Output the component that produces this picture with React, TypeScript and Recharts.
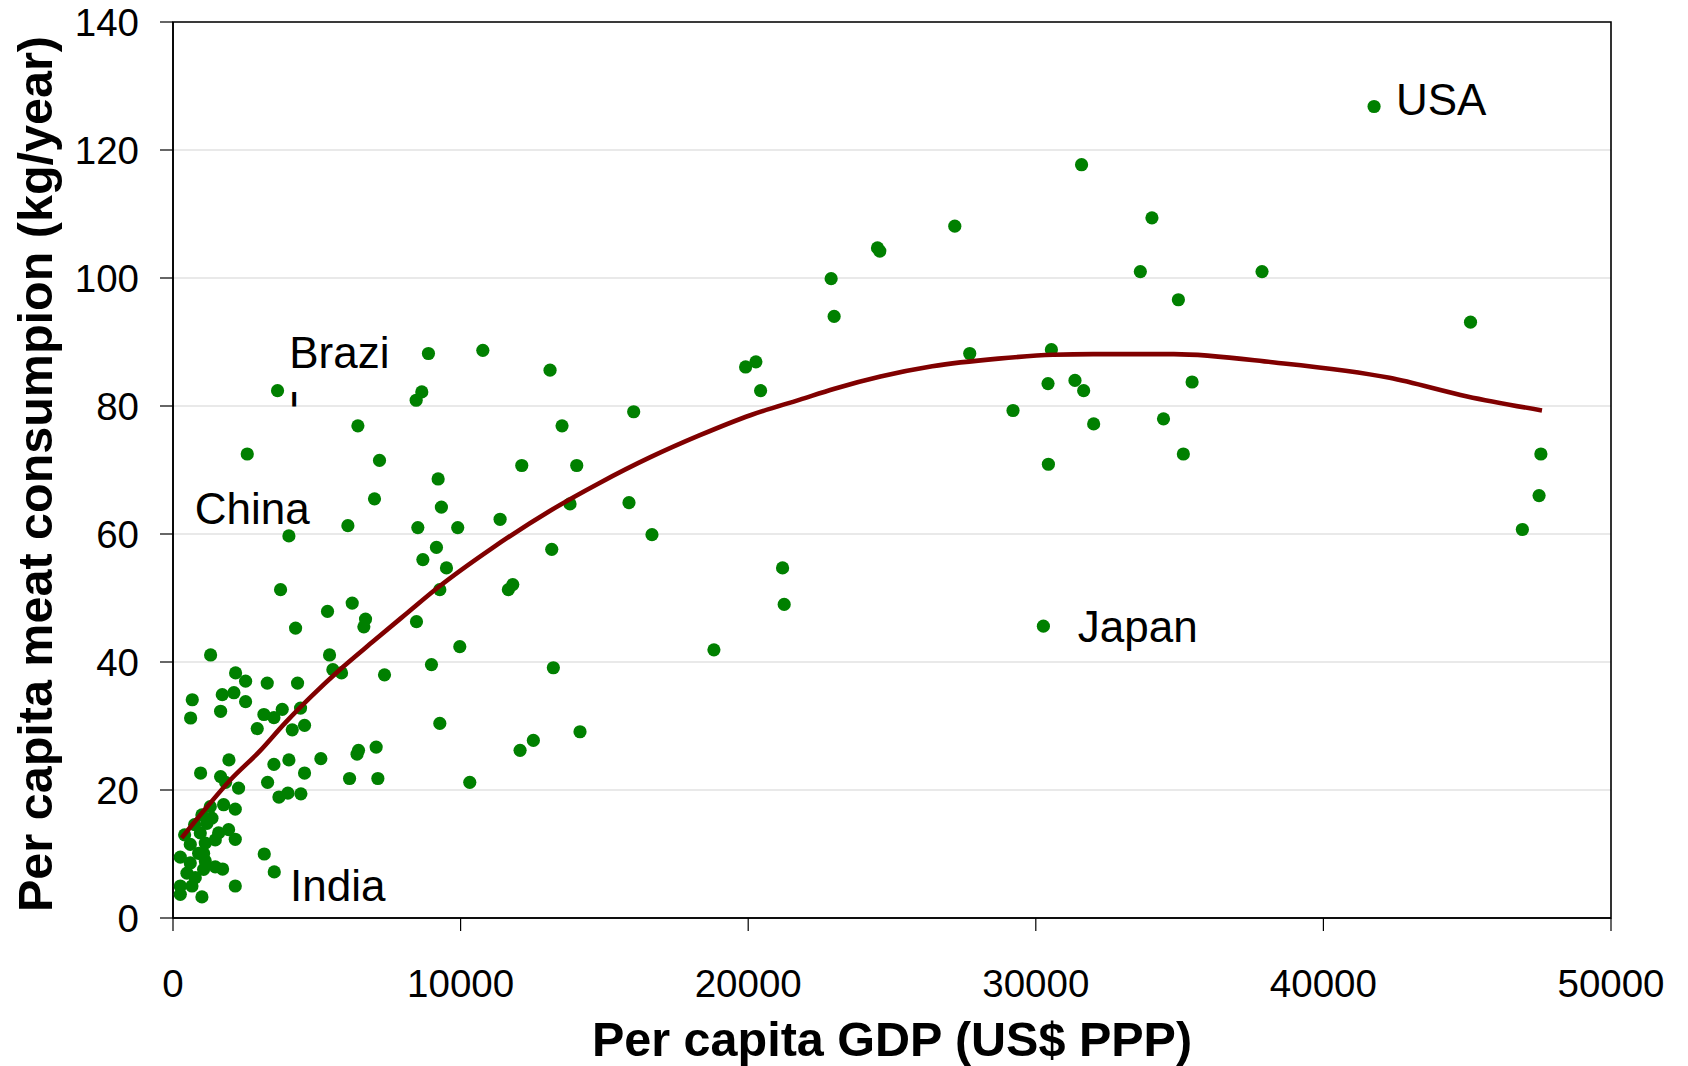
import React from "react";
import {
  CartesianGrid,
  ReferenceArea,
  Scatter,
  ScatterChart,
  XAxis,
  YAxis,
} from "recharts";

// per capita GDP (US$ PPP) and meat consumption (kg/year) per country
const gdp = [
  254, 254, 254, 404, 485, 601, 601, 660, 774, 752, 891, 948, 1006, 1006, 1064,
  1122, 1122, 1180, 1296, 1354, 1470, 1470, 1585, 1725, 1760, 1933, 2165, 2165,
  2165, 2280, 3173, 3521, 960, 1655, 1829, 1945, 3289, 3509, 4030, 4574, 3683,
  3995, 4447, 5141, 6139, 7123, 6400, 6450, 7064, 10319, 2929, 4146, 4574, 9277,
  613, 1655, 3161, 3509, 3798, 4435, 670, 1713, 2118, 2524, 2176, 2524, 3277,
  4331, 5559, 5860, 7354, 8987, 1308, 5443, 9972, 4262, 6636, 6694, 8466, 5373,
  6231, 3740, 9277, 9509, 8688, 9160, 4030, 6081, 8513, 9900, 9332, 7006, 9219,
  7180, 2582, 6429, 8455, 8651, 3635, 8882, 10773, 13110, 13527, 16018, 12127,
  14038, 13805, 15855, 11373, 16654, 13169, 11814, 11661, 13225, 14152, 12530,
  12068, 27183, 24496, 24576, 22884, 22988, 19910, 20268, 20431, 27703, 30542,
  30425, 31362, 31664, 29208, 32012, 30438, 21195, 21251, 18808, 30264, 41762,
  31591, 34038, 33635, 37866, 34958, 45115, 35434, 34440, 35131, 47562, 47499,
  46918, 1064,
];
const meat = [
  9.5, 5.0, 3.7, 13.0, 7.0, 11.5, 8.6, 5.0, 6.3, 14.6, 10.1, 13.3, 16.1, 3.3,
  10.1, 11.7, 8.9, 14.8, 17.4, 15.6, 12.2, 8.0, 13.3, 7.65, 17.7, 13.8, 17.0,
  12.3, 5.0, 20.3, 10.0, 7.2, 22.65, 22.1, 21.2, 24.7, 21.2, 24.0, 24.7, 22.65,
  18.9, 19.5, 19.4, 24.9, 21.8, 21.8, 25.6, 26.2, 26.7, 21.2, 29.6, 29.4, 30.1,
  30.4, 31.25, 32.3, 31.8, 31.3, 32.6, 32.8, 34.1, 34.9, 35.2, 33.8, 38.3, 37.0,
  36.7, 36.7, 38.8, 38.3, 38.0, 39.6, 41.1, 41.1, 42.4, 45.3, 45.5, 46.7, 46.3,
  47.9, 49.2, 51.3, 51.3, 54.7, 56.0, 57.9, 59.7, 61.3, 61.0, 61.0, 64.2, 65.5,
  68.6, 71.5, 72.5, 76.9, 80.9, 82.2, 82.4, 88.2, 88.7, 85.6, 76.9, 79.1, 70.7,
  70.7, 64.7, 64.9, 62.3, 59.9, 57.6, 52.1, 51.3, 39.1, 29.1, 27.75, 26.2, 108.1,
  104.7, 104.2, 99.9, 94.0, 86.1, 86.9, 82.4, 88.2, 88.8, 83.5, 84.0, 82.4, 79.3,
  77.2, 70.9, 54.7, 49.0, 41.9, 45.6, 126.8, 117.7, 109.4, 101.0, 101.0, 96.6,
  93.1, 83.75, 78.0, 72.5, 72.5, 66.0, 60.7, 7.6,
];

// fitted trend line
const trendGdp = [
  300, 1100, 2000, 3000, 3900, 4800, 5800, 6900, 8100, 9200, 11100, 13100,
  14800, 16600, 18300, 20100, 21800, 23000, 24600, 26400, 28700, 30600, 32000,
  34800, 38300, 42300, 45000, 47600,
];
const trendMeat = [
  12.5, 16.9, 21.6, 26.0, 30.5, 34.6, 38.8, 43.0, 47.5, 51.6, 57.8, 63.6, 67.9,
  72.0, 75.4, 78.6, 81.0, 82.7, 84.6, 86.2, 87.4, 88.0, 88.1, 88.1, 86.8, 84.4,
  81.5, 79.3,
];

// country annotations (text baseline start, in data units)
const labelNames = ["USA", "Japan", "China", "Brazi", "l", "India"];
const labelGdp = [42520, 31460, 760, 4040, 4041, 4070];
const labelMeat = [125.5, 43.2, 61.6, 85.9, 77.2, 2.6];

const xTicks = [0, 10000, 20000, 30000, 40000, 50000];
const yTicks = [0, 20, 40, 60, 80, 100, 120, 140];

const FONT = "'Liberation Sans', Arial, Helvetica, sans-serif";

const points = gdp.map((x, i) => ({ x, y: meat[i] }));
const trend = trendGdp.map((x, i) => ({ x, y: trendMeat[i] }));
const labels = labelNames.map((name, i) => ({
  name,
  x: labelGdp[i],
  y: labelMeat[i],
}));

// eslint-disable-next-line @typescript-eslint/no-explicit-any
function Dot(props: any) {
  return <circle cx={props.cx} cy={props.cy} r={6.6} fill="#008000" />;
}

function NoDot() {
  return <g />;
}

// eslint-disable-next-line @typescript-eslint/no-explicit-any
function LabelText(props: any) {
  const { cx, cy, payload } = props;
  if (payload.name === "l") {
    // the wrapped last letter of "Brazil" is cut off by its text box
    return (
      <g>
        <defs>
          <clipPath id="brazil-clip">
            <rect x={cx - 5} y={cy - 40} width={30} height={22.5} />
          </clipPath>
        </defs>
        <text
          x={cx}
          y={cy}
          fontSize={44}
          fontFamily={FONT}
          fill="#000"
          clipPath="url(#brazil-clip)"
        >
          l
        </text>
      </g>
    );
  }
  return (
    <text x={cx} y={cy} fontSize={44} fontFamily={FONT} fill="#000">
      {payload.name}
    </text>
  );
}

// eslint-disable-next-line @typescript-eslint/no-explicit-any
function YTitle({ viewBox }: any) {
  const x = viewBox.x + 52;
  const y = viewBox.y + viewBox.height / 2 + 4;
  return (
    <text
      x={x}
      y={y}
      transform={`rotate(-90, ${x}, ${y})`}
      textAnchor="middle"
      fontSize={48.5}
      fontWeight="bold"
      fontFamily={FONT}
      fill="#000"
    >
      Per capita meat consumpion (kg/year)
    </text>
  );
}

// eslint-disable-next-line @typescript-eslint/no-explicit-any
function XTitle({ viewBox }: any) {
  return (
    <text
      x={viewBox.x + viewBox.width / 2}
      y={viewBox.y + 138}
      textAnchor="middle"
      fontSize={48.5}
      fontWeight="bold"
      fontFamily={FONT}
      fill="#000"
    >
      Per capita GDP (US$ PPP)
    </text>
  );
}

export default function App() {
  return (
    <div style={{ position: "absolute", left: 0, top: 0, background: "#fff" }}>
      <ScatterChart
        width={1688}
        height={1066}
        margin={{ top: 22, right: 77, bottom: 0, left: 0 }}
      >
        <CartesianGrid vertical={false} stroke="#d4d4d4" strokeWidth={1.2} />
        <XAxis
          type="number"
          dataKey="x"
          domain={[0, 50000]}
          ticks={xTicks}
          interval={0}
          height={148}
          tickSize={13}
          tickMargin={39}
          axisLine={{ stroke: "#000", strokeWidth: 1.6 }}
          tickLine={{ stroke: "#000", strokeWidth: 1.2 }}
          tick={{ fontSize: 38.5, fill: "#000", fontFamily: FONT }}
          label={<XTitle />}
        />
        <YAxis
          type="number"
          dataKey="y"
          domain={[0, 140]}
          ticks={yTicks}
          interval={0}
          width={173}
          tickSize={13}
          tickMargin={21}
          axisLine={{ stroke: "#000", strokeWidth: 1.6 }}
          tickLine={{ stroke: "#000", strokeWidth: 1.2 }}
          tick={{ fontSize: 38.5, fill: "#000", fontFamily: FONT }}
          label={<YTitle />}
        />
        <ReferenceArea
          x1={0}
          x2={50000}
          y1={0}
          y2={140}
          fill="none"
          fillOpacity={0}
          stroke="#000"
          strokeWidth={1.6}
        />
        <Scatter data={points} shape={Dot} isAnimationActive={false} />
        <Scatter
          data={trend}
          shape={NoDot}
          line={{ stroke: "#800000", strokeWidth: 4.6 }}
          lineJointType="monotoneX"
          isAnimationActive={false}
        />
        <Scatter data={labels} shape={LabelText} isAnimationActive={false} />
      </ScatterChart>
    </div>
  );
}
